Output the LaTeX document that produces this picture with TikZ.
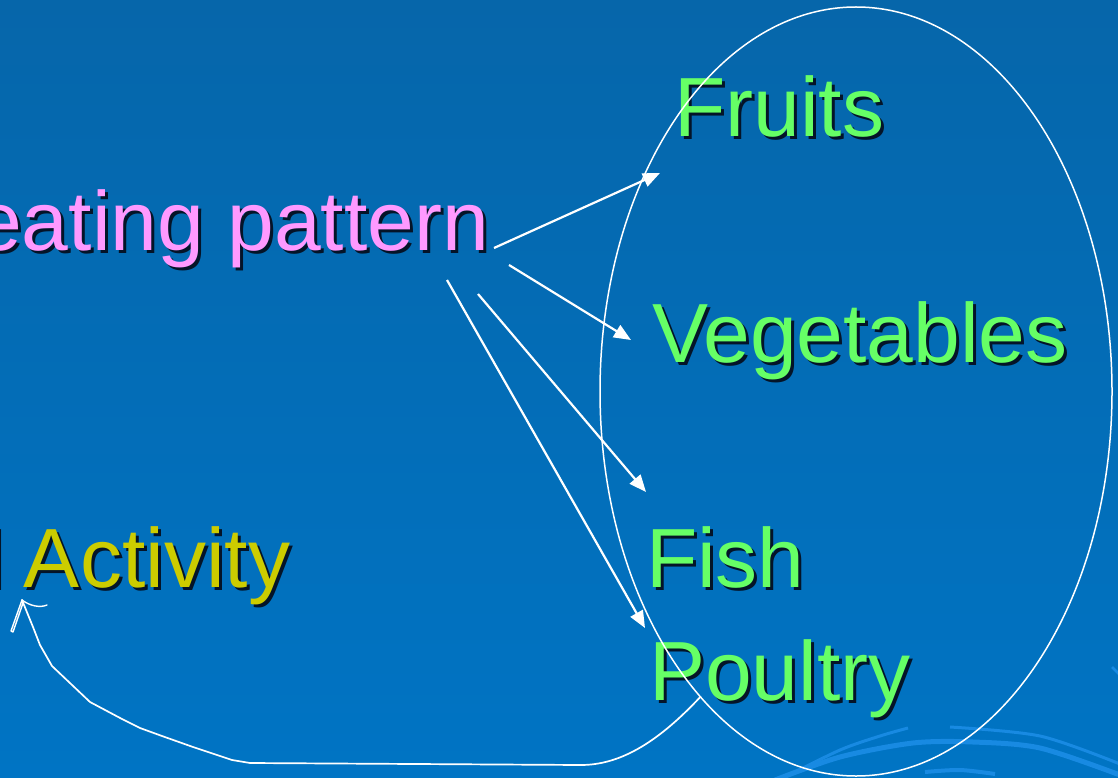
\documentclass[tikz,border=0pt]{standalone}
\usepackage{fontspec}
\setmainfont{Liberation Sans}
\usetikzlibrary{arrows.meta,shapes.geometric}
\definecolor{bgtop}{RGB}{6,102,170}
\definecolor{bgbot}{RGB}{0,116,196}
\definecolor{deco}{RGB}{24,138,226}
\definecolor{foodgreen}{RGB}{102,255,102}
\definecolor{pinktxt}{RGB}{255,153,255}
\definecolor{yellowtxt}{RGB}{204,204,0}
\definecolor{shadowc}{RGB}{4,20,40}
\newcommand\stxt[5]{%
  \node[shadowtxt, anchor=base west] (#1s) at (#2+3,#3-3) {#5};
  \node[big, text=#4, anchor=base west] (#1) at (#2,#3) {#5};}
\begin{document}
\begin{tikzpicture}[x=1pt,y=1pt,
  every node/.style={inner sep=0pt, outer sep=0pt},
  big/.style={font=\fontsize{84}{100}\selectfont},
  shadowtxt/.style={big, text=shadowc},
  conn/.style={draw=white, line width=2.2pt, -{Triangle[length=17pt,width=14pt]}},
  ring/.style={draw=white, line width=1.5pt},
  handline/.style={draw=white, line width=1.7pt, line join=round, line cap=round},
  decoarc/.style={draw=deco, line width=4pt}]
\useasboundingbox (0,0) rectangle (1118,-778);
\clip (0,0) rectangle (1118,-778);
\shade[top color=bgtop, bottom color=bgbot] (0,0) rectangle (1118,-778);

% decorative arcs
\draw[decoarc, line width=3pt] plot[smooth] coordinates {(783,-778) (840,-750) (880,-736) (908,-728)};
\draw[decoarc, line width=3pt] plot[smooth] coordinates {(950,-727) (1040,-736) (1120,-764)};
\draw[decoarc, line width=5pt] plot[smooth] coordinates {(775,-780) (840,-757) (913,-743) (973,-742) (1040,-748) (1120,-775)};
\draw[decoarc] plot[smooth] coordinates {(925,-772) (960,-770) (995,-774)};
\draw[decoarc, line width=2.5pt] (1112,-667) -- (1120,-675);

% texts
\node[shadowtxt, anchor=base east] (eats) at (492,-253) {eating pattern};
\node[big, text=pinktxt, anchor=base east] (eat) at (489,-250) {eating pattern};
\node[shadowtxt, anchor=base west] (acts) at (-12,-590) {l\kern-3pt\ Activity};
\node[big, text=yellowtxt, anchor=base west] (act) at (-15,-587) {l\kern-3pt\ Activity};
\stxt{fruits}{674}{-137}{foodgreen}{Fruits}
\stxt{veg}{652}{-362}{foodgreen}{Vegetables}
\stxt{fish}{646}{-587}{foodgreen}{Fish}
\stxt{poultry}{649}{-700}{foodgreen}{Poultry}

% grouping ellipse
\node[ellipse, ring, minimum width=512pt, minimum height=769pt] (group) at (856,-391.5) {};

% arrows
\coordinate (s1) at (494,-248);
\coordinate (t1) at (660,-173);
\coordinate (s2) at (509,-265);
\coordinate (t2) at (631,-340);
\coordinate (s3) at (478,-294);
\coordinate (t3) at (646,-492);
\coordinate (s4) at (447,-280);
\coordinate (t4) at (645,-628);
\draw[conn] (s1) -- (t1);
\draw[conn] (s2) -- (t2);
\draw[conn] (s3) -- (t3);
\draw[conn] (s4) -- (t4);

% hand-drawn return arrow
\coordinate (rtip) at (22,-600);
\draw[handline] (group.243.7) .. controls (660,-740) and (622,-765) .. (581,-765)
  -- (250,-763) -- (232,-760) -- (193,-747) -- (162,-736) -- (140,-728) -- (122,-719)
  -- (90,-702) -- (52,-666) -- (40,-645) -- (33,-627) -- (rtip);
\draw[handline, line width=1.4pt] (rtip) -- (11,-631) -- (13,-632) -- (23,-603);
\draw[handline, line width=1.4pt] (rtip) .. controls (30,-606) and (40,-608) .. (47,-605);
\end{tikzpicture}
\end{document}
